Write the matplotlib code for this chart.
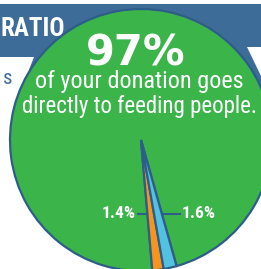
import matplotlib
matplotlib.use("Agg")
import matplotlib.pyplot as plt
import numpy as np
from matplotlib import font_manager
from matplotlib.patches import Polygon

W, H = 261, 269

shares = [97, 1.4, 1.6]
side_labels = ["1.4%", "1.6%"]
headline = "97%"
caption_lines = ["of your donation goes", "directly to feeding people."]
banner_word = "RATIO"
side_word = "s"

GREEN = "#3bb54a"
ORANGE = "#f7941e"
LIGHT_BLUE = "#55c1e0"
BAND = "#3d6c99"
EDGE = "#2e5d8a"


def pick_family(candidates):
    names = {f.name for f in font_manager.fontManager.ttflist}
    for name in candidates:
        if name in names:
            return name
    return "DejaVu Sans"


narrow = pick_family(["Liberation Sans Narrow", "Roboto Condensed",
                      "Open Sans Condensed", "DejaVu Sans"])


def img(x, y):
    # picture coords (y down) -> axes coords (y up)
    return x, H - y


fig = plt.figure(figsize=(W / 100, H / 100), dpi=100)
ax = fig.add_axes([0, 0, 1, 1])

# header ribbon
band = [img(0, 4), img(261, 4), img(261, 88), img(22, 88), img(34, 57), img(0, 57)]
ax.add_patch(Polygon(band, closed=True, facecolor=BAND, edgecolor="none", zorder=0))
notch = [img(247, 47), img(261, 47), img(261, 76)]
ax.add_patch(Polygon(notch, closed=True, facecolor="white", edgecolor="none", zorder=0))

cx, cy = img(141, 140)
wedges, _ = ax.pie(
    shares,
    colors=[GREEN, ORANGE, LIGHT_BLUE],
    startangle=280 + shares[2] * 3.6,
    counterclock=True,
    center=(cx, cy),
    radius=131,
    frame=True,
    wedgeprops=dict(edgecolor=EDGE, linewidth=1.6),
)
for w in wedges:
    w.set_zorder(1)

ax.set_xlim(0, W)
ax.set_ylim(0, H)
ax.axis("off")

ax.text(0, H - 29, banner_word, color="white", fontsize=18, fontweight="bold",
        family=narrow, ha="left", va="center", zorder=3)
ax.text(3, H - 78, side_word, color=BAND, fontsize=15, family=narrow,
        ha="left", va="center", zorder=3)

ax.text(136, H - 65, headline, color="white", fontsize=30, fontweight="bold",
        ha="center", va="baseline", zorder=3)
ax.text(139, H - 88, caption_lines[0], color="white", fontsize=17.5,
        family=narrow, ha="center", va="baseline", zorder=3)
ax.text(140, H - 113, caption_lines[1], color="white", fontsize=16.5,
        family=narrow, ha="center", va="baseline", zorder=3)

# leader lines from the small slices
ly = H - 214
depth = cy - ly
left_edge = cx + depth * np.tan(np.radians(wedges[1].theta1 - 270))
right_edge = cx + depth * np.tan(np.radians(wedges[2].theta2 - 270))
ax.plot([138, left_edge], [ly, ly], color=EDGE, lw=1.5, zorder=2)
ax.plot([right_edge, 180], [ly, ly], color=EDGE, lw=1.5, zorder=2)
ax.text(136, ly, side_labels[0], color="white", fontsize=12.5, fontweight="bold",
        family=narrow, ha="right", va="center", zorder=3)
ax.text(182, ly, side_labels[1], color="white", fontsize=12.5, fontweight="bold",
        family=narrow, ha="left", va="center", zorder=3)

fig.savefig("out.png", dpi=100)
